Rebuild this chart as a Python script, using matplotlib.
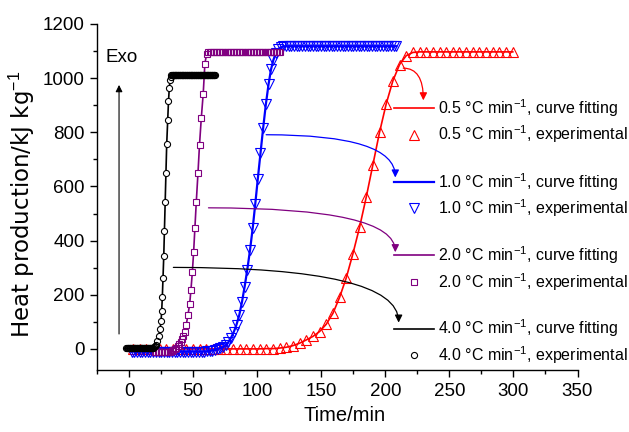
import numpy as np
import matplotlib
matplotlib.use("Agg")
import matplotlib.pyplot as plt
from matplotlib.ticker import MultipleLocator
from matplotlib.legend import Legend

plt.rcParams['font.family'] = ['Liberation Sans', 'DejaVu Sans']
plt.rcParams['mathtext.fontset'] = 'custom'
plt.rcParams['mathtext.rm'] = 'Liberation Sans'
plt.rcParams['mathtext.it'] = 'Liberation Sans:italic'
plt.rcParams['mathtext.bf'] = 'Liberation Sans:bold'

# ---------------- data ----------------
rates = ["0.5", "1.0", "2.0", "4.0"]

# 0.5 C/min
red_t = [3.1, 8.3, 13.5, 18.7, 23.9, 29.1, 34.3, 39.5, 44.7, 49.9, 55.1, 60.3, 65.5,
         70.7, 75.9, 81.1, 86.3, 91.5, 96.7, 101.9, 107.1, 112.3, 117.5, 122.7, 127.9,
         133.1, 138.3, 143.5, 148.7, 153.9, 159.1, 164.3, 169.5, 174.7, 179.9, 185.1,
         190.3, 195.5, 200.7, 205.9, 211.1, 216.3, 221.5, 226.7, 231.9, 237.1, 242.3,
         247.5, 252.7, 257.9, 263.1, 268.3, 273.5, 278.7, 283.9, 289.1, 294.3, 299.5]
red_h = [0, 0, 0, 0, 0, 0, 0, 0, 0, 0, 0, 0, 0,
         0, 0, 0, 0, 0, 0, 0, 1, 1, 3, 6, 12,
         21, 33, 46, 64, 91, 131, 190, 262, 351, 449, 560,
         680, 800, 905, 990, 1050, 1083, 1095, 1097, 1097, 1097, 1097,
         1097, 1097, 1097, 1097, 1097, 1097, 1097, 1097, 1097, 1097, 1097]

# 1.0 C/min
blue_t = [2.0, 4.1, 6.2, 8.3, 10.4, 12.5, 14.6, 16.7, 18.8, 20.9, 23.0, 25.1, 27.2,
          29.3, 31.4, 33.5, 35.6, 37.7, 39.8, 41.9, 44.0, 46.1, 48.2, 50.3, 52.4, 54.5,
          56.6, 58.7, 60.8, 62.9, 65.0, 67.1, 69.2, 71.3, 73.4, 75.5, 77.6, 79.7, 81.8,
          83.9, 86.0, 88.1, 90.2, 92.3, 94.4, 96.5, 98.5, 100.5, 102.6, 104.7, 106.8,
          108.9, 110.8, 112.6, 114.5, 116.4, 118.4, 120.4, 122.5, 124.6, 126.7, 128.8,
          130.9, 133.0, 135.1, 137.2, 139.3, 141.4, 143.5, 145.6, 147.7, 149.8, 151.9,
          154.0, 156.1, 158.2, 160.3, 162.4, 164.5, 166.6, 168.7, 170.8, 172.9, 175.0,
          177.1, 179.2, 181.3, 183.4, 185.5, 187.6, 189.7, 191.8, 193.9, 196.0, 198.1,
          200.2, 202.3, 204.4, 206.5, 208.6]
blue_h = [-10, -10, -10, -10, -10, -10, -10, -10, -10, -10, -10, -10, -10,
          -10, -10, -10, -10, -10, -10, -10, -10, -10, -10, -10, -10, -10,
          -10, -10, -9, -8, -6, -4, -1, 3, 7, 14, 25, 42, 63,
          90, 124, 172, 229, 293, 364, 445, 535, 628, 723, 817, 904,
          978, 1032, 1066, 1092, 1107, 1114, 1117, 1118, 1118, 1118, 1118,
          1118, 1118, 1118, 1118, 1118, 1118, 1118, 1118, 1118, 1118, 1118,
          1118, 1118, 1118, 1118, 1118, 1118, 1118, 1118, 1118, 1118, 1118,
          1118, 1118, 1118, 1118, 1118, 1118, 1118, 1118, 1118, 1118, 1118,
          1118, 1118, 1118, 1118, 1118]

# 2.0 C/min
purple_t = [20.0, 21.2, 22.4, 23.6, 24.8, 26.0, 27.2, 28.4, 29.6, 30.8, 32.0, 33.2,
            34.4, 35.6, 36.8, 38.0, 39.2, 40.4, 41.5, 42.5, 43.6, 44.7, 46.0, 47.3,
            48.3, 49.4, 50.4, 51.4, 52.5, 53.8, 55.0, 56.4, 57.9, 59.2, 60.5, 61.7,
            62.9, 64.1, 65.3, 66.5, 67.7, 68.9, 70.1, 71.3, 72.5, 73.7, 74.9, 76.1,
            77.3, 78.5, 79.7, 80.9, 82.1, 83.3, 84.5, 85.7, 86.9, 88.1, 89.3, 90.5,
            91.7, 92.9, 94.1, 95.3, 96.5, 97.7, 98.9, 100.1, 101.3, 102.5, 103.7,
            104.9, 106.1, 107.3, 108.5, 109.7, 110.9, 112.1, 113.3, 114.5, 115.7,
            116.9, 118.1]
purple_h = [-12, -12, -12, -12, -12, -12, -12, -12, -12, -11, -10, -8,
            -5, -1, 4, 10, 17, 26, 36, 46, 64, 90, 126, 165,
            217, 283, 357, 446, 544, 649, 754, 853, 943, 1054, 1088, 1097,
            1098, 1098, 1098, 1098, 1098, 1098, 1098, 1098, 1098, 1098, 1098, 1098,
            1098, 1098, 1098, 1098, 1098, 1098, 1098, 1098, 1098, 1098, 1098, 1098,
            1098, 1098, 1098, 1098, 1098, 1098, 1098, 1098, 1098, 1098, 1098,
            1098, 1098, 1098, 1098, 1098, 1098, 1098, 1098, 1098, 1098,
            1098, 1098]

# 4.0 C/min
black_t = [-2.0, -1.5, -1.0, -0.5, 0.0, 0.5, 1.0, 1.5, 2.0, 2.5, 3.0, 3.5, 4.0, 4.5,
           5.0, 5.5, 6.0, 6.5, 7.0, 7.5, 8.0, 8.5, 9.0, 9.5, 10.0, 10.5, 11.0, 11.5,
           12.0, 12.5, 13.0, 13.5, 14.0, 14.5, 15.0, 15.5, 16.0, 16.5, 17.0, 17.5,
           18.0, 18.5, 19.0, 19.5, 20.0, 20.8, 22.1, 23.2, 24.2, 25.0, 25.5, 26.0,
           26.5, 27.1, 27.6, 28.2, 28.8, 29.4, 30.2, 30.8, 31.4, 32.0, 32.5, 33.0,
           33.5, 34.0, 34.5, 35.0, 35.5, 36.0, 36.5, 37.0, 37.5, 38.0, 38.5, 39.0,
           39.5, 40.0, 40.5, 41.0, 41.5, 42.0, 42.5, 43.0, 43.5, 44.0, 44.5, 45.0,
           45.5, 46.0, 46.5, 47.0, 47.5, 48.0, 48.5, 49.0, 49.5, 50.0, 50.5, 51.0,
           51.5, 52.0, 52.5, 53.0, 53.5, 54.0, 54.5, 55.0, 55.5, 56.0, 56.5, 57.0,
           57.5, 58.0, 58.5, 59.0, 59.5, 60.0, 60.5, 61.0, 61.5, 62.0, 62.5, 63.0,
           63.5, 64.0, 64.5, 65.0, 65.5, 66.0, 66.5, 67.0]
black_h = [2, 2, 2, 2, 2, 2, 2, 2, 2, 2, 2, 2, 2, 2,
           2, 2, 2, 2, 2, 2, 2, 2, 2, 2, 2, 2, 2, 2,
           2, 2, 2, 2, 2, 2, 2, 2, 2, 2, 3, 3,
           4, 4, 5, 7, 9, 15, 30, 48, 73, 104, 141, 193,
           260, 342, 437, 542, 649, 756, 844, 915, 962, 992, 1005, 1010,
           1011, 1011, 1011, 1011, 1011, 1011, 1011, 1011, 1011, 1011, 1011, 1011,
           1011, 1011, 1011, 1011, 1011, 1011, 1011, 1011, 1011, 1011, 1011, 1011,
           1011, 1011, 1011, 1011, 1011, 1011, 1011, 1011, 1011, 1011, 1011, 1011,
           1011, 1011, 1011, 1011, 1011, 1011, 1011, 1011, 1011, 1011, 1011, 1011,
           1011, 1011, 1011, 1011, 1011, 1011, 1011, 1011, 1011, 1011, 1011, 1011,
           1011, 1011, 1011, 1011, 1011, 1011, 1011, 1011]

# annotation arrows: (start t, start H) -> (end t, end H)
arrow_start = [(214, 1037), (107, 791), (62, 521), (34.6, 301)]
arrow_end = [(229.7, 918), (207.8, 633), (207.8, 357), (210.4, 97)]

colors = ['#ff0000', '#0000ff', '#800080', '#000000']
markers = ['^', 'v', 's', 'o']
msizes = [6.8, 6.8, 4.2, 4.4]
white_fill = [False, False, True, True]
line_w = [1.2, 1.6, 1.2, 1.2]
series = [(red_t, red_h), (blue_t, blue_h), (purple_t, purple_h), (black_t, black_h)]

# ---------------- figure ----------------
W, H = 629, 432
fig = plt.figure(figsize=(W / 100, H / 100), dpi=100)
ax = fig.add_axes([97 / W, (H - 370) / H, 480.5 / W, (370 - 24) / H])

handles = []
for i, (t, h) in enumerate(series):
    z = 2 + i
    fit, = ax.plot(t, h, '-', color=colors[i], lw=line_w[i], zorder=z)
    if white_fill[i]:
        ax.plot(t, h, linestyle='none', marker=markers[i], ms=msizes[i],
                mfc='white', mec='none', zorder=z + 0.05)
    exp, = ax.plot(t, h, linestyle='none', marker=markers[i], ms=msizes[i],
                   mfc='none', mec=colors[i], mew=0.8, zorder=z + 0.1)
    handles.append((fit, exp))

ax.set_xlim(-25, 350)
ax.set_ylim(-78, 1200)
ax.xaxis.set_minor_locator(MultipleLocator(25))
ax.yaxis.set_minor_locator(MultipleLocator(100))
ax.set_xticks(np.arange(0, 351, 50))
ax.set_yticks(np.arange(0, 1201, 200))
for s in ['top', 'right']:
    ax.spines[s].set_visible(False)
for s in ['left', 'bottom']:
    ax.spines[s].set_linewidth(1.0)
ax.tick_params(which='major', direction='out', length=5, width=1.0, labelsize=13.5, pad=4)
ax.tick_params(which='minor', direction='out', length=3, width=1.0)

ax.set_xlabel('Time/min', fontsize=14.5)
ax.xaxis.set_label_coords(0.516, -0.105)
ax.set_ylabel('Heat production/kJ kg$^{-1}$', fontsize=16.5, family='DejaVu Sans')
ax.yaxis.set_label_coords(-0.125, 0.48)

# legends (four pairs)
leg_y = [0.7195, 0.506, 0.2936, 0.0814]
for i in range(4):
    fit, exp = handles[i]
    leg = Legend(ax, [fit, exp],
                 [rates[i] + ' \u00b0C min$^{-1}$, curve fitting',
                  rates[i] + ' \u00b0C min$^{-1}$, experimental'],
                 loc='center left', bbox_to_anchor=(0.618, leg_y[i]),
                 frameon=False, borderpad=0, borderaxespad=0,
                 handlelength=2.5, handletextpad=0.25, labelspacing=0.3,
                 fontsize=11.5, numpoints=1)
    ax.add_artist(leg)

# curved arrows
for i in range(4):
    ax.annotate('', xy=arrow_end[i], xytext=arrow_start[i],
                arrowprops=dict(arrowstyle='-|>', color=colors[i], lw=0.9,
                                shrinkA=0, shrinkB=0, mutation_scale=11,
                                connectionstyle='angle3,angleA=0,angleB=90'),
                zorder=10)

# Exo arrow and label
ax.annotate('', xy=(-7.8, 975), xytext=(-7.8, 55),
            arrowprops=dict(arrowstyle='-|>', color='black', lw=0.8,
                            shrinkA=0, shrinkB=0, mutation_scale=10))
ax.text(-18, 1075, 'Exo', fontsize=13.5, ha='left', va='center')

fig.savefig('out.png', dpi=100)
